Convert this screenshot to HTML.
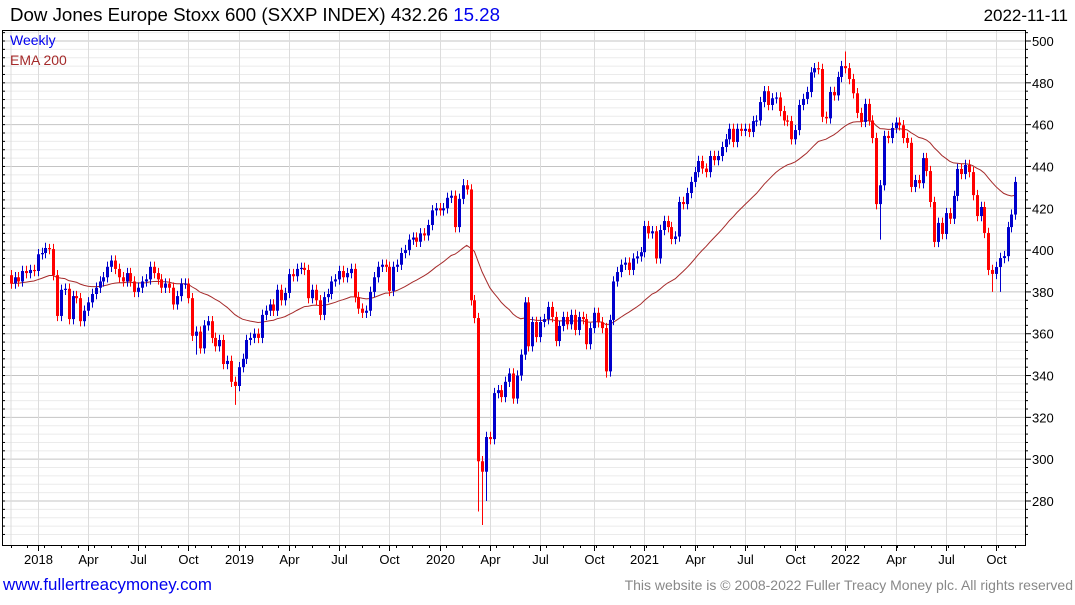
<!DOCTYPE html>
<html><head><meta charset="utf-8"><style>
html,body{margin:0;padding:0;background:#fff;}
body{width:1075px;height:600px;overflow:hidden;font-family:"Liberation Sans",sans-serif;}
</style></head><body>
<svg id="chart" width="1075" height="600" xmlns="http://www.w3.org/2000/svg" font-family="Liberation Sans, sans-serif">
<g id="grid"></g>
<g id="ema"></g>
<g id="candles"></g>
<g id="axes"></g>
<text x="10" y="21" font-size="18.7" fill="#000">Dow Jones Europe Stoxx 600 (SXXP INDEX) 432.26 <tspan fill="#0000ee">15.28</tspan></text>
<text x="1068" y="21" font-size="17" fill="#000" text-anchor="end">2022-11-11</text>
<text x="10" y="45" font-size="14" fill="#0000ee">Weekly</text>
<text x="10" y="65" font-size="14" fill="#a52a2a">EMA 200</text>
<text x="3" y="590" font-size="16.9" fill="#0000ee">www.fullertreacymoney.com</text>
<text x="1073" y="590" font-size="14" fill="#888" text-anchor="end">This website is © 2008-2022 Fuller Treacy Money plc. All rights reserved</text>
</svg>
<script>
const closes = [
384,387,385,390,389,390.5,390,398,398.6,401,400.5,388,368.5,381,381.5,367,378,377,366,371,375,379,382,385,387,392,395,391,387,385,389,385,380,382,385,386,392,389,386,382,384,382,374,378,384,384,377,359,361,353,364,366,358,354,357,345.5,347,337,335,344,348,357,358,360,358,
369,371,374,371,381,376,379.5,388.5,387.5,391,391.5,390.5,377,381,376,369,377.5,379,385,386,390,387,389,391,377.5,372,370,371,380,387,392,393,392,380.5,392,393,398.6,400,405,406,404,408,407,412,419,420,419,420,425,426,411,424.5,
431,429,376,367.5,299,294,310.6,309.6,331.6,333,329.7,337,341,329,340,350,375,354,365.6,358.4,365.6,367,372.8,368,356.5,363.7,368,364.5,369,361.8,368,367,355,362.7,370,365.5,362.7,342,366.6,385,389.5,393,394,390.5,396,397,
399,411.5,408,409,396,409.6,413.9,411,405.3,406.5,423,422,427.3,432.6,437.3,442.6,439,437.3,445,443,445,449.3,453,458,451.7,458,457,458,456.5,461.7,462,470.8,476,469.4,472.6,473,466.5,462,461.7,453,457.4,469.4,472.3,475.6,
485,487,486.6,463.7,463,475.6,474,482.8,488,487,481.8,475,465.6,461.3,469.9,462,453.6,422,431,454.6,453.6,458.4,461,459.7,453.6,451.3,430.2,433.5,432,444,437.8,423,403.9,413,407.7,417.7,415,425.9,438.8,436.4,440.7,437.3,426.3,416.3,420.6,408.2,390.5,388.6,391.9,396.2,397.1,411,417,432.6
];
const firstOpen = 388;
const wickLows = {48:350,58:326,121:275,122:268.5,123:280,154:339,225:405,254:380,256:380};
const wickHighs = {10:403,117:434,209:490,216:495,260:435};
const yTicks = [280,300,320,340,360,380,400,420,440,460,480,500];
const xTickLabels = ["2018","Apr","Jul","Oct","2019","Apr","Jul","Oct","2020","Apr","Jul","Oct","2021","Apr","Jul","Oct","2022","Apr","Jul","Oct"];
const xTickWeek = [7,20,33,46,59,72,85,98,111,124,137,151,164,177,190,203,216,229,242,255];

const NS="http://www.w3.org/2000/svg";
const L=2,R=1025,T=30,B=545;
const yOf=v=>41+(500-v)*2.0909;
const xOf=i=>10.7+i*3.864;
function mk(tag,attrs,parent){const e=document.createElementNS(NS,tag);for(const k in attrs)e.setAttribute(k,attrs[k]);parent.appendChild(e);return e;}
const grid=document.getElementById('grid'),axes=document.getElementById('axes'),cg=document.getElementById('candles'),eg=document.getElementById('ema');
for(let v=264;v<=508;v+=4){const y=yOf(v);if(y<T||y>B)continue;const major=(v%20===0);
const ln=mk('line',{x1:L,x2:R,y1:y,y2:y,stroke:major?'#c4c4c4':'#ebebeb','stroke-width':1},grid);


const tk=mk('line',{x1:R,x2:R+(major?6:3),y1:y,y2:y,stroke:'#000'},axes);


const lt=mk('line',{x1:L,x2:L+3,y1:y,y2:y,stroke:'#000'},axes);

}
yTicks.forEach(v=>{const t=mk('text',{x:1032,y:yOf(v)+5,'font-size':13,fill:'#000'},axes);t.textContent=v;

});
const vg=mk('line',{x1:11,x2:11,y1:T,y2:B,stroke:'#dcdcdc'},grid);


xTickWeek.forEach((w,k)=>{const x=Math.round(xOf(w))+0.5;
const g=mk('line',{x1:x,x2:x,y1:T,y2:B,stroke:'#dcdcdc'},grid);


const tk=mk('line',{x1:x,x2:x,y1:B,y2:B+6,stroke:'#000'},axes);


const t=mk('text',{x:x,y:564,'font-size':13,fill:'#000','text-anchor':'middle'},axes);t.textContent=xTickLabels[k];

});
for(let i=0;i<closes.length;i+=4.33){const x=Math.round(xOf(i))+0.5;const m=mk('line',{x1:x,x2:x,y1:B,y2:B+3,stroke:'#000'},axes);

}
const frame=mk('rect',{x:L+0.5,y:T+0.5,width:R-L,height:B-T,fill:'none',stroke:'#000','stroke-width':1},axes);


let ema=384,pts=[];const a=2/41;
closes.forEach((c,i)=>{ema=ema+a*(c-ema);pts.push(xOf(i).toFixed(1)+','+yOf(ema).toFixed(1));});
const pl=mk('polyline',{points:pts.join(' '),fill:'none',stroke:'#a52a2a','stroke-width':1},eg);


closes.forEach((c,i)=>{const o=i===0?firstOpen:closes[i-1];const up=c>=o;const col=up?'#0000cc':'#ff0000';
const hi=wickHighs[i]!==undefined?wickHighs[i]:Math.max(o,c)+2.5;const lo=wickLows[i]!==undefined?wickLows[i]:Math.min(o,c)-2.5;
const x=Math.round(xOf(i));
const w=mk('line',{x1:x+0.5,x2:x+0.5,y1:yOf(hi),y2:yOf(lo),stroke:col,'stroke-width':1},cg);


const yt=yOf(Math.max(o,c)),yb=yOf(Math.min(o,c));
const r=mk('rect',{x:x-1,y:yt,width:3,height:Math.max(1.2,yb-yt),fill:col},cg);

});
</script>
</body></html>
